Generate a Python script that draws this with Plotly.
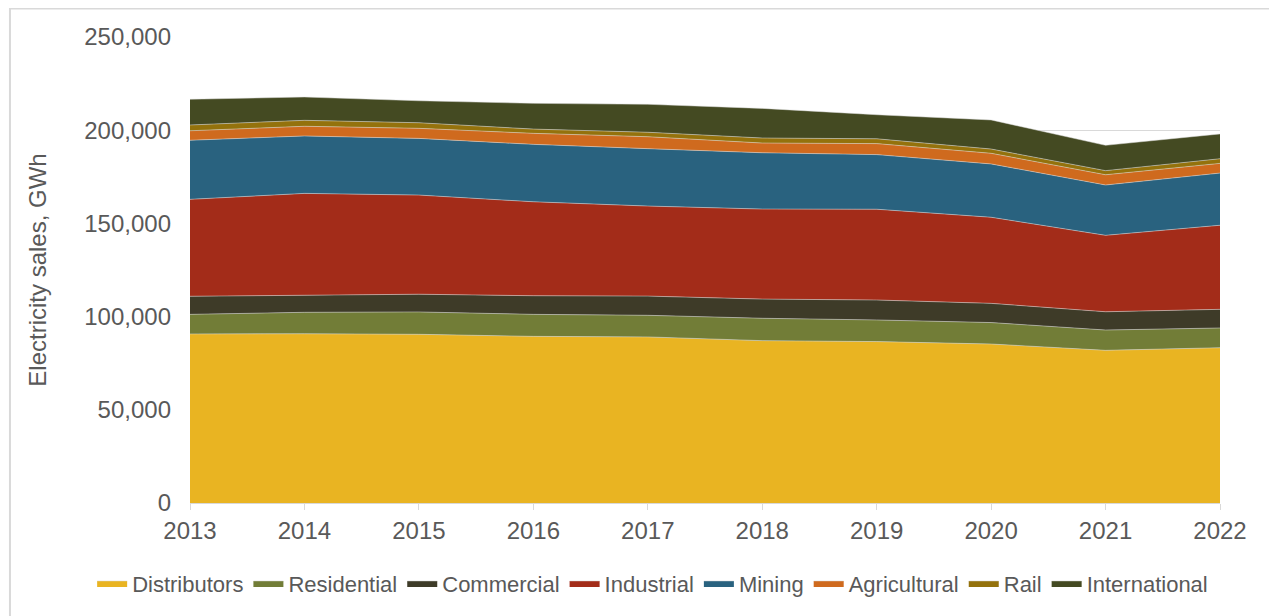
import plotly.graph_objects as go

years = [2013, 2014, 2015, 2016, 2017, 2018, 2019, 2020, 2021, 2022]

distributors  = [90700, 90800, 90500, 89400, 89100, 87100, 86600, 85300, 81900, 83300]
residential   = [10500, 11500, 12000, 11800, 11600, 12000, 11600, 11500, 10900, 10600]
commercial    = [9700, 9300, 9500, 10000, 10300, 10300, 10700, 10300, 9800, 10000]
industrial    = [52000, 54500, 53200, 50400, 48300, 48300, 48700, 46200, 41000, 45100]
mining        = [31700, 30800, 30400, 30800, 30800, 30200, 29300, 28600, 27000, 28000]
agricultural  = [5100, 5200, 5400, 5900, 6400, 5200, 5900, 5700, 5500, 5200]
rail          = [3100, 3200, 3000, 2300, 2400, 2700, 2600, 2300, 2200, 2500]
international = [13800, 12500, 11800, 13800, 15000, 15900, 12900, 15600, 13600, 13300]

series = [
    ("Distributors", distributors, "#E9B422"),
    ("Residential", residential, "#727D37"),
    ("Commercial", commercial, "#3E3B28"),
    ("Industrial", industrial, "#A32C19"),
    ("Mining", mining, "#29627F"),
    ("Agricultural", agricultural, "#CF6A1E"),
    ("Rail", rail, "#94720C"),
    ("International", international, "#444A22"),
]

y_ticks = [0, 50000, 100000, 150000, 200000, 250000]

fig = go.Figure()
for name, vals, col in series:
    fig.add_trace(go.Scatter(
        x=years, y=vals, name=name, mode="lines", stackgroup="one",
        fillcolor=col, line=dict(width=0.7, color="rgba(220,220,220,0.7)"),
    ))

fig.update_layout(
    width=1269, height=608,
    margin=dict(l=182, r=57, t=29, b=113, autoexpand=False),
    paper_bgcolor="white", plot_bgcolor="white",
    font=dict(family="Liberation Sans, Arial, sans-serif", size=24, color="#595959"),
    showlegend=True,
    legend=dict(orientation="h", x=-0.095, xanchor="left", y=-0.172, yanchor="middle",
                font=dict(size=22, color="#595959"), traceorder="normal",
                itemwidth=30, tracegroupgap=0),
    shapes=[dict(type="rect", xref="paper", yref="paper",
                 x0=-0.1748, x1=1.0539, y0=-0.30, y1=1.0612,
                 line=dict(color="#D9D9D9", width=2), fillcolor="rgba(0,0,0,0)",
                 layer="below")],
)
fig.update_xaxes(
    range=[2013, 2022], tickmode="array", tickvals=years,
    ticktext=[str(y) for y in years], tickangle=0,
    showgrid=False, showline=True, linecolor="#D9D9D9", linewidth=1,
    ticks="outside", ticklen=6, tickcolor="#D9D9D9",
    tickfont=dict(size=24, color="#595959"), zeroline=False,
)
fig.update_yaxes(
    range=[0, 250000], tickvals=y_ticks, ticktext=[f"{v:,}" for v in y_ticks],
    showgrid=True, gridcolor="#D9D9D9", gridwidth=1, zeroline=False,
    tickfont=dict(size=24, color="#595959"),
    title=dict(text="Electricity sales, GWh", font=dict(size=24, color="#595959"), standoff=30),
    ticks="", ticklabelstandoff=18,
)

fig.write_html("out.html")
